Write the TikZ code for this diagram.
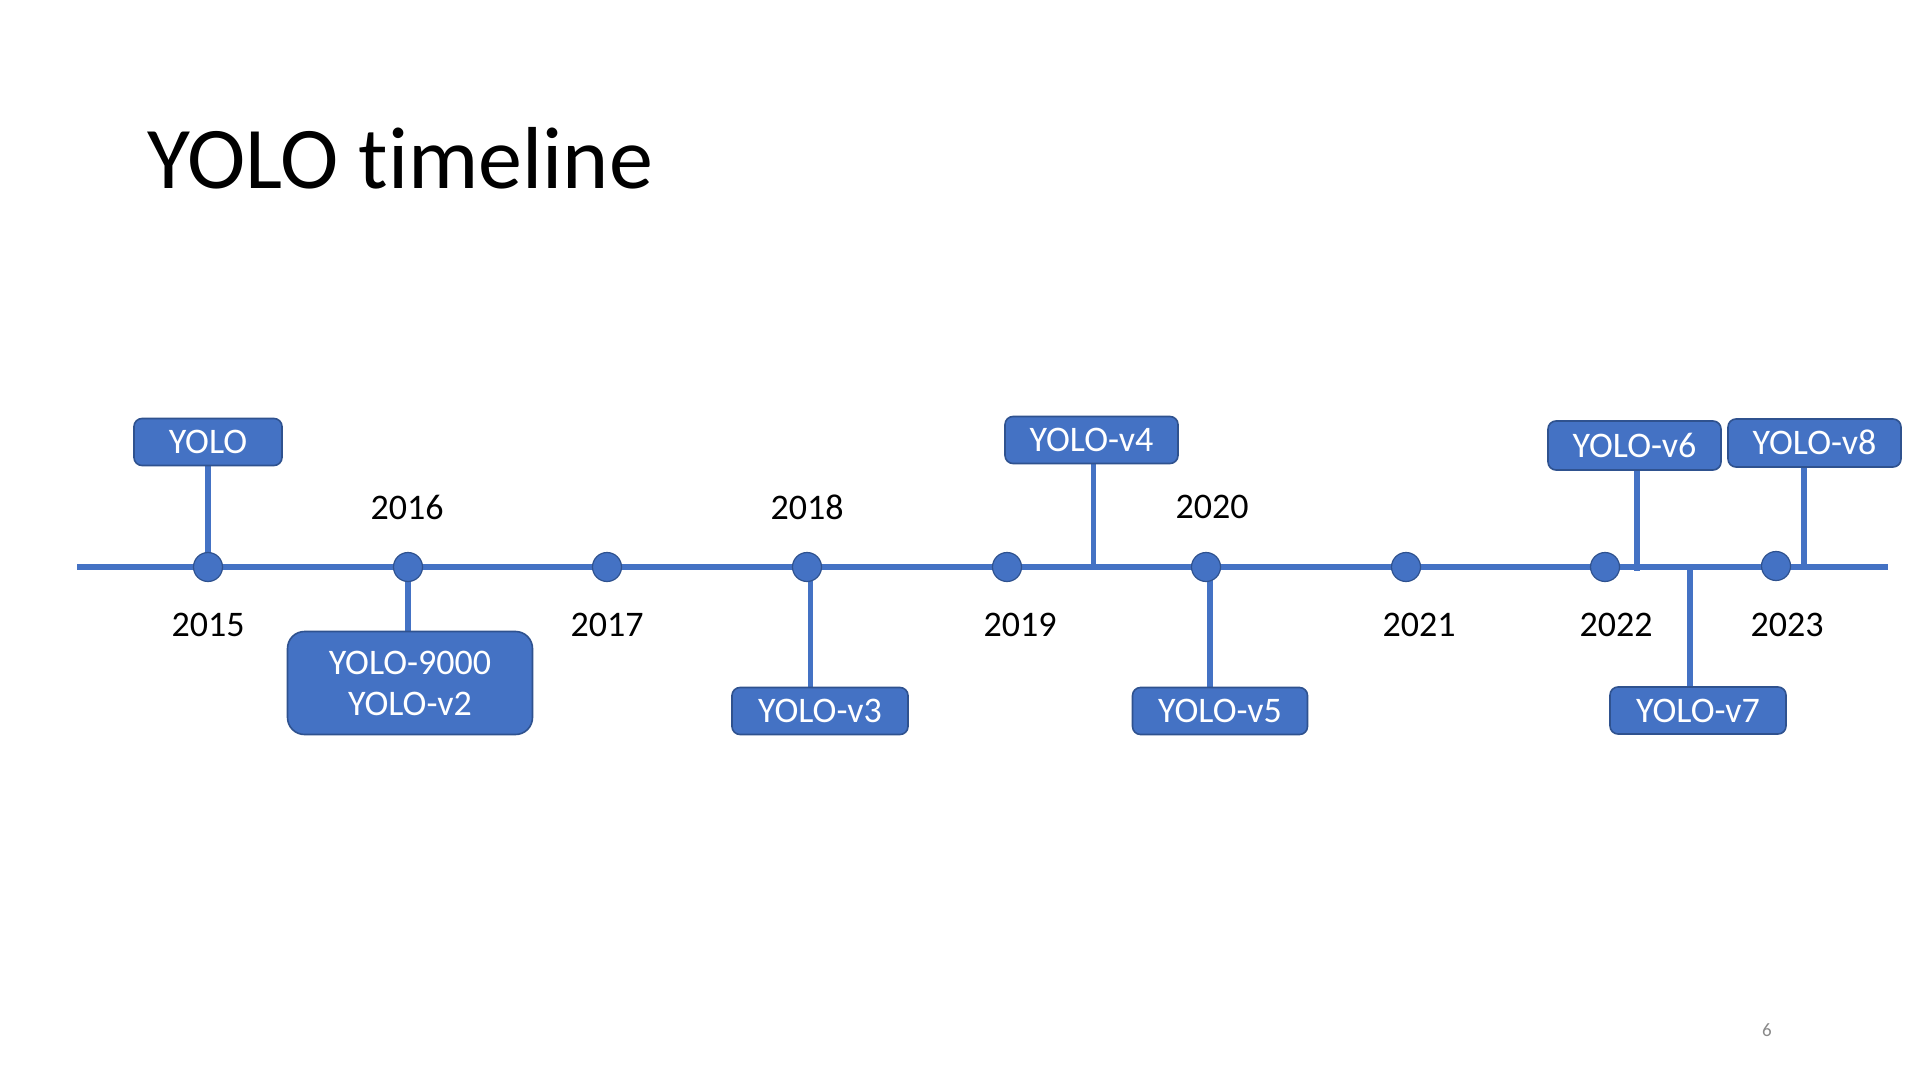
\documentclass[tikz,border=0pt]{standalone}
\usepackage{fontspec}
\setmainfont{Carlito}[Ligatures={NoCommon}]
\definecolor{tlblue}{HTML}{4472C4}
\definecolor{tledge}{HTML}{2F528F}
\definecolor{pgnum}{HTML}{898989}
\tikzset{
  tline/.style={line width=3pt, tlblue},
  conn/.style={line width=2.8pt, tlblue},
  yeardot/.style={circle, fill=tlblue, draw=tledge, line width=0.6pt, minimum size=14.5pt, inner sep=0pt},
  vbox/.style={rounded corners=4pt, fill=tlblue, draw=tledge, line width=0.8pt, text=white,
    font=\fontsize{18}{20.5}\selectfont, inner sep=0pt, minimum height=23.5pt, minimum width=87pt,
    text height=11.6pt, text depth=0pt},
  bigbox/.style={rounded corners=8.5pt, fill=tlblue, draw=tledge, line width=0.8pt, text=white,
    font=\fontsize{18}{20.5}\selectfont, inner sep=0pt, minimum height=51.5pt, minimum width=122.5pt, align=center},
  yearlbl/.style={font=\fontsize{18}{20}\selectfont, anchor=base, inner sep=0pt},
  titletxt/.style={font=\fontsize{44}{50}\selectfont, anchor=base west, inner sep=0pt},
  pagenum/.style={font=\fontsize{9.5}{11}\selectfont, text=pgnum, anchor=base, inner sep=0pt}
}
\begin{document}
\begin{tikzpicture}[x=0.5pt, y=-0.5pt]
\useasboundingbox[fill=white] (0,0) rectangle (1920,1080);

\node[titletxt] (title) at (147,188.5) {YOLO timeline};

% timeline
\coordinate (L) at (77,567);
\coordinate (R) at (1888,567);
\draw[tline] (L) -- (R);

% dot positions
\coordinate (p2015) at (208,567);
\coordinate (p2016) at (408,567);
\coordinate (p2017) at (607,567);
\coordinate (p2018) at (807,567);
\coordinate (p2019) at (1007,567);
\coordinate (p2020) at (1206,567);
\coordinate (p2021) at (1406,567);
\coordinate (p2022) at (1605,567);
\coordinate (p2023) at (1776,566);

% box positions (placeholders for anchors)
\node[vbox, minimum width=74pt, draw=none, fill=none, text opacity=0] (b1) at (208,442) {YOLO};
\node[bigbox, draw=none, fill=none, text opacity=0] (b2) at (410,683) {YOLO-9000\\YOLO-v2};
\node[vbox, minimum width=88pt, draw=none, fill=none, text opacity=0] (b3) at (820,711) {YOLO-v3};
\node[vbox, minimum width=86.5pt, draw=none, fill=none, text opacity=0] (b4) at (1091.5,440) {YOLO-v4};
\node[vbox, minimum width=87.5pt, draw=none, fill=none, text opacity=0] (b5) at (1220,711) {YOLO-v5};
\node[vbox, minimum width=86.5pt, minimum height=24.5pt, draw=none, fill=none, text opacity=0] (b6) at (1634.5,445.5) {YOLO-v6};
\node[vbox, minimum width=88pt, draw=none, fill=none, text opacity=0] (b7) at (1698,710.5) {YOLO-v7};
\node[vbox, minimum width=86.5pt, minimum height=24pt, draw=none, fill=none, text opacity=0] (b8) at (1814.5,443) {YOLO-v8};

% connectors
\draw[conn] (b1.south) -- (p2015);
\draw[conn] (p2016) -- (p2016 |- b2.north);
\draw[conn] (p2018) ++(3.5,0) coordinate (c3) -- (c3 |- b3.north);
\draw[conn] (b4.south) ++(2,0) coordinate (c4) -- (c4 |- L);
\draw[conn] (p2020) ++(4,0) coordinate (c5) -- (c5 |- b5.north);
\draw[conn] (b6.south) ++(2.5,0) coordinate (c6) -- ([yshift=-2pt]c6 |- L);
\draw[conn] (b7.north) ++(-8,0) coordinate (c7) -- ([yshift=-1.5pt]c7 |- L);
\draw[conn] (b8.south) ++(-10.5,0) coordinate (c8) -- (c8 |- L);

% visible boxes
\node[vbox, minimum width=74pt] (v1) at (b1) {YOLO};
\node[bigbox] (v2) at (b2) {YOLO-9000\\YOLO-v2};
\node[vbox, minimum width=88pt] (v3) at (b3) {YOLO-v3};
\node[vbox, minimum width=86.5pt] (v4) at (b4) {YOLO-v4};
\node[vbox, minimum width=87.5pt] (v5) at (b5) {YOLO-v5};
\node[vbox, minimum width=86.5pt, minimum height=24.5pt] (v6) at (b6) {YOLO-v6};
\node[vbox, minimum width=88pt] (v7) at (b7) {YOLO-v7};
\node[vbox, minimum width=86.5pt, minimum height=24pt] (v8) at (b8) {YOLO-v8};

% dots
\node[yeardot] (d2015) at (p2015) {};
\node[yeardot] (d2016) at (p2016) {};
\node[yeardot] (d2017) at (p2017) {};
\node[yeardot] (d2018) at (p2018) {};
\node[yeardot] (d2019) at (p2019) {};
\node[yeardot] (d2020) at (p2020) {};
\node[yeardot] (d2021) at (p2021) {};
\node[yeardot] (d2022) at (p2022) {};
\node[yeardot] (d2023) at (p2023) {};

% year labels
\node[yearlbl] (y2015) at (208,636) {2015};
\node[yearlbl] (y2016) at (407,519) {2016};
\node[yearlbl] (y2017) at (607,636) {2017};
\node[yearlbl] (y2018) at (807,519) {2018};
\node[yearlbl] (y2019) at (1020,636) {2019};
\node[yearlbl] (y2020) at (1212,518) {2020};
\node[yearlbl] (y2021) at (1419,636) {2021};
\node[yearlbl] (y2022) at (1616,636) {2022};
\node[yearlbl] (y2023) at (1787,636) {2023};

\node[pagenum] (pg) at (1767,1036.5) {6};
\end{tikzpicture}
\end{document}
